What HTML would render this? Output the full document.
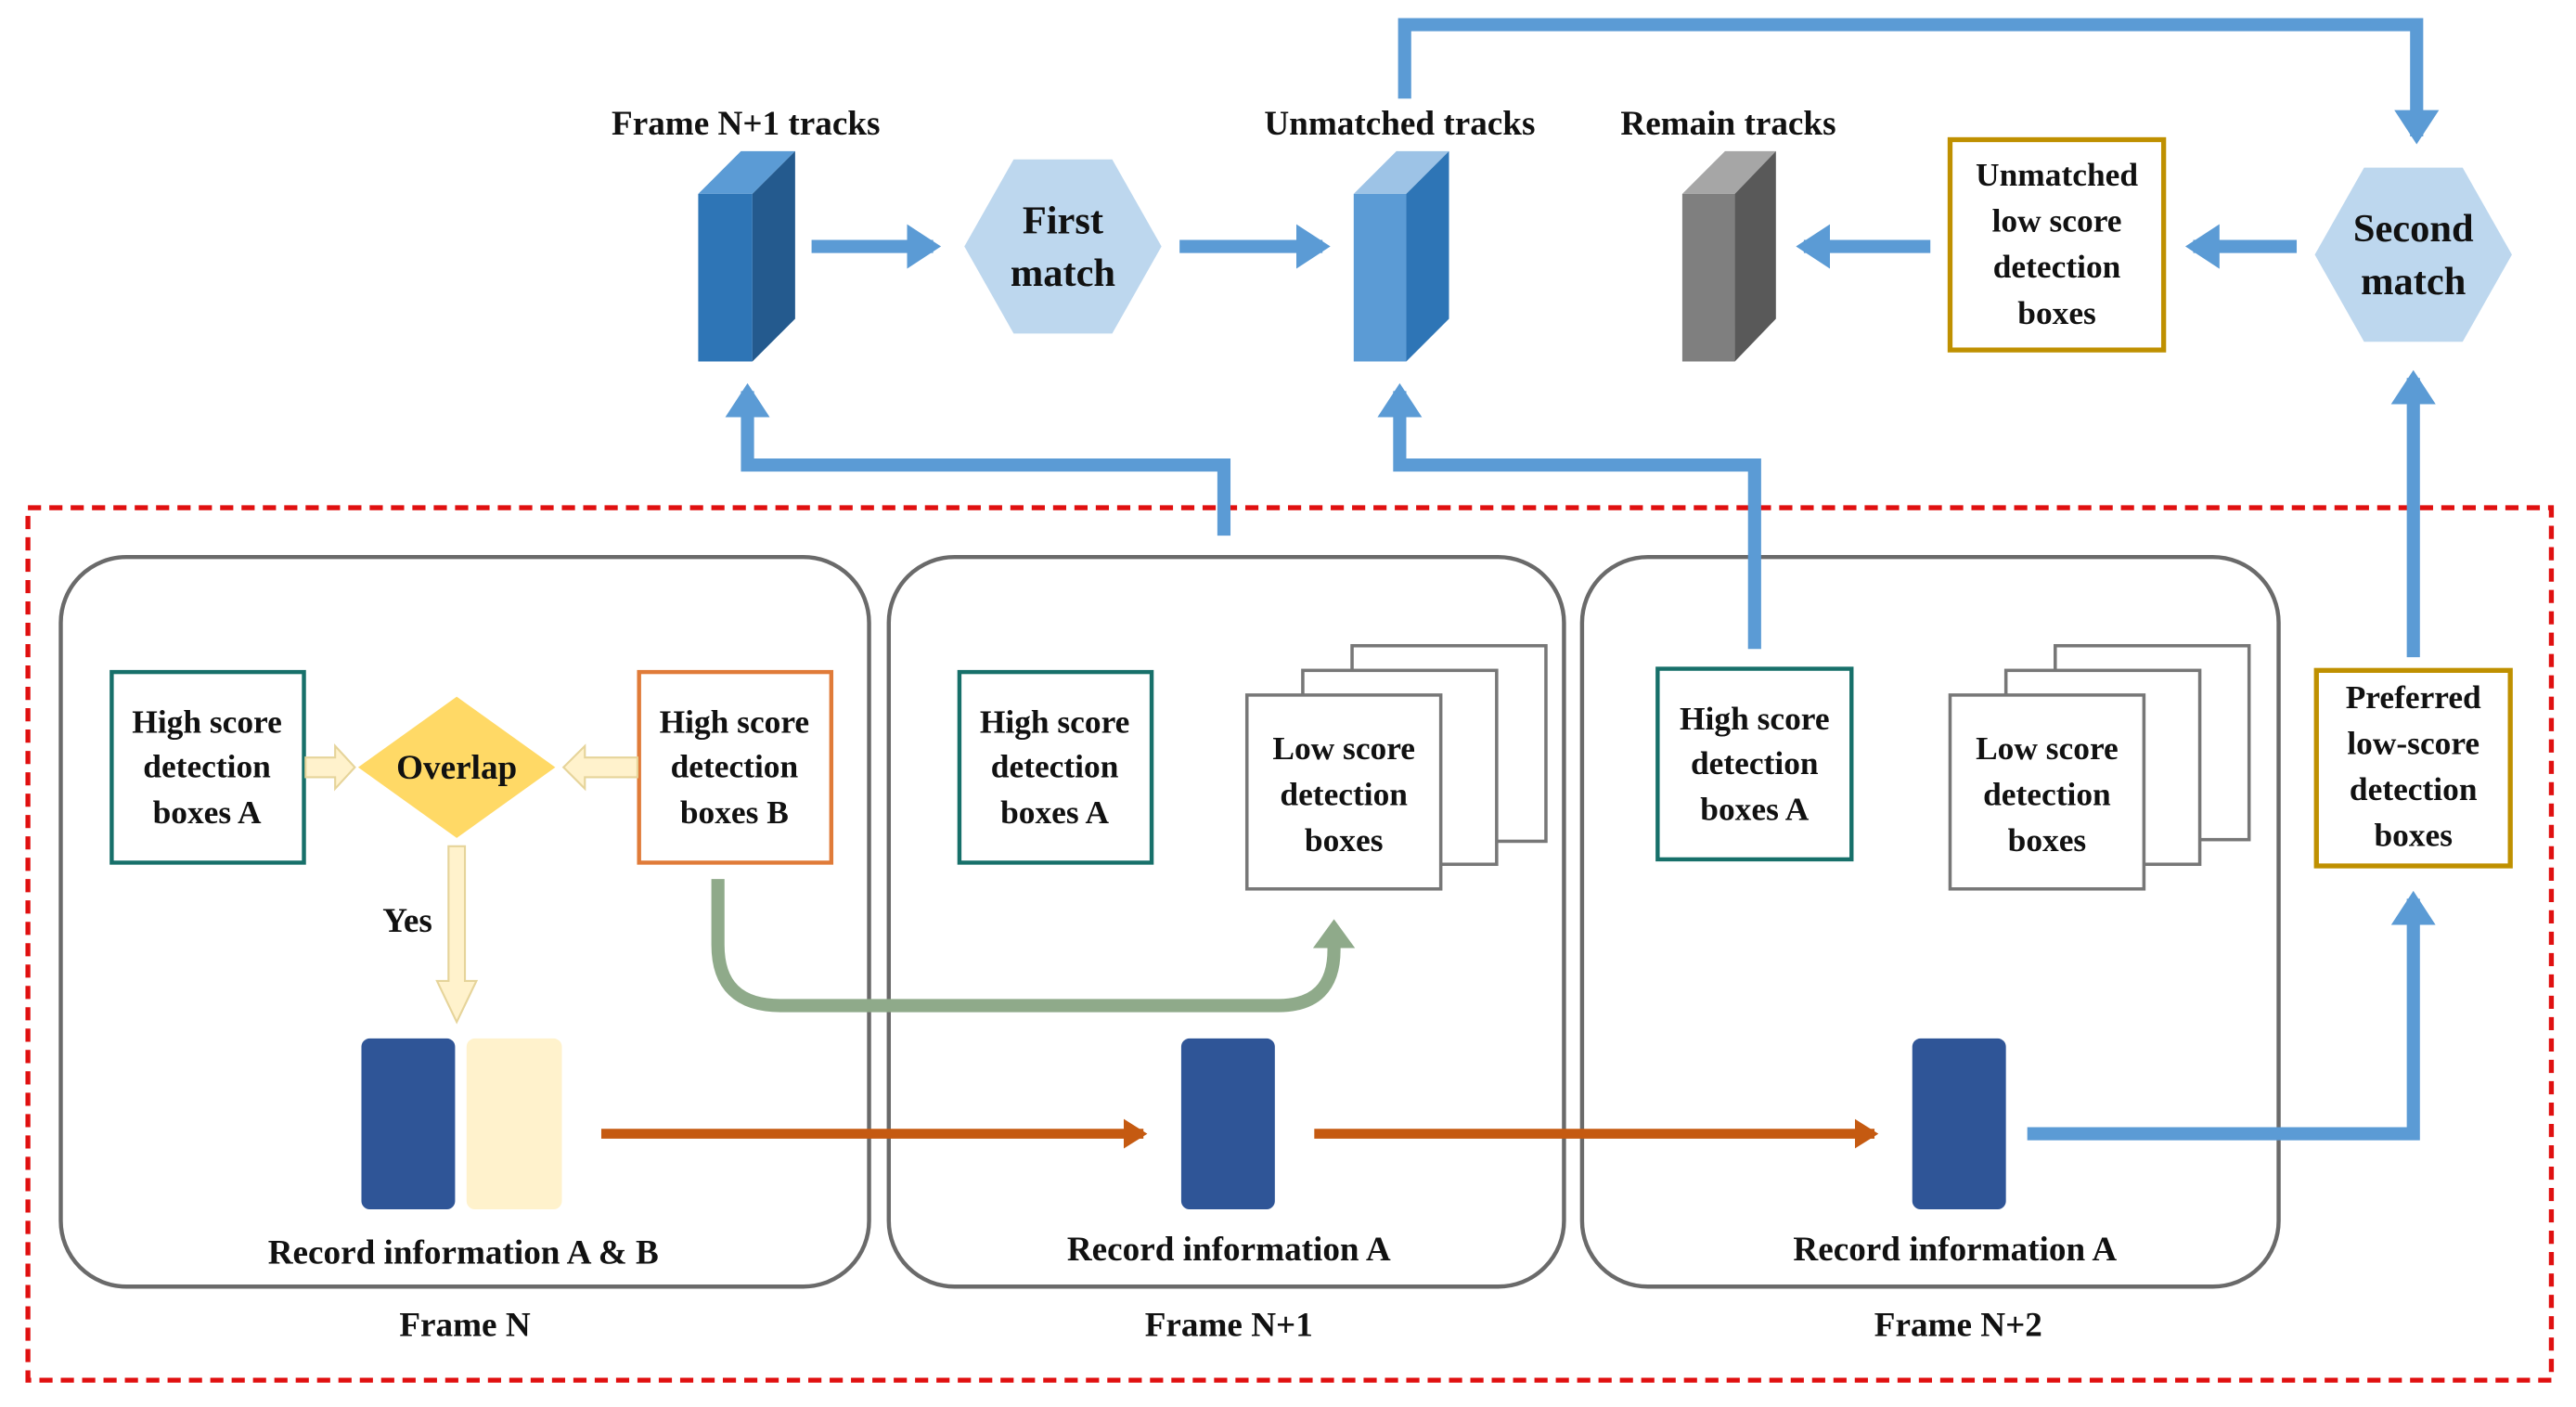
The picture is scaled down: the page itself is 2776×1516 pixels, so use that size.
<!DOCTYPE html>
<html><head><meta charset="utf-8"><style>
html,body{margin:0;padding:0;background:#fff;}
svg{display:block;}
text{font-family:"Liberation Serif",serif;font-weight:bold;fill:#111;text-anchor:middle;}
</style></head><body>
<svg width="2776" height="1516" viewBox="0 0 1568 856.3" preserveAspectRatio="none" xmlns="http://www.w3.org/2000/svg">
<defs>
<marker id="ab" markerWidth="4" markerHeight="4" refX="2" refY="2" orient="auto" markerUnits="strokeWidth"><path d="M0,0.3 L2.6,2 L0,3.7Z" fill="#5b9bd5"/></marker>
<marker id="ao" markerWidth="4" markerHeight="4" refX="2" refY="2" orient="auto" markerUnits="strokeWidth"><path d="M0,0.5 L2.4,2 L0,3.5Z" fill="#c55a11"/></marker>
<marker id="ag" markerWidth="4" markerHeight="4" refX="1.5" refY="2" orient="auto" markerUnits="strokeWidth"><path d="M0,0.4 L2.2,2 L0,3.6Z" fill="#8faa8a"/></marker>
</defs>
<rect x="17" y="309" width="1536" height="531" fill="none" stroke="#e01010" stroke-width="3" stroke-dasharray="8,5"/>
<g fill="none" stroke="#6a6a6a" stroke-width="2.5">
<rect x="37" y="339" width="492" height="444" rx="40"/>
<rect x="541" y="339" width="411" height="444" rx="40"/>
<rect x="963" y="339" width="424" height="444" rx="40"/>
</g>
<g font-size="21">
<text x="283" y="813">Frame N</text>
<text x="748" y="813">Frame N+1</text>
<text x="1192" y="813">Frame N+2</text>
<text x="454" y="82">Frame N+1 tracks</text>
<text x="852" y="82">Unmatched tracks</text>
<text x="1052" y="82">Remain tracks</text>
</g>
<g fill="none" stroke="#5b9bd5" stroke-width="8">
<path d="M494,150 H568" marker-end="url(#ab)"/>
<path d="M718,150 H805" marker-end="url(#ab)"/>
<path d="M1175,150 H1098" marker-end="url(#ab)"/>
<path d="M1398,150 H1335" marker-end="url(#ab)"/>
<path d="M855,60 V15 H1471 V83" marker-end="url(#ab)"/>
<path d="M1469,400 V230" marker-end="url(#ab)"/>
<path d="M1234,690 H1469 V547" marker-end="url(#ab)"/>
<path d="M745,326 V283 H455 V238" marker-end="url(#ab)"/>
<path d="M1068,395 V283 H852 V238" marker-end="url(#ab)"/>
</g>
<polygon points="425,118 451,92 484,92 458,118" fill="#5b9bd5"/>
<rect x="425" y="118" width="33" height="102" fill="#2e75b6"/>
<polygon points="458,118 484,92 484,194 458,220" fill="#245a8e"/>
<polygon points="824,118 850,92 882,92 856,118" fill="#9dc3e6"/>
<rect x="824" y="118" width="32" height="102" fill="#5b9bd5"/>
<polygon points="856,118 882,92 882,194 856,220" fill="#2e75b6"/>
<polygon points="1024,118 1050,92 1081,92 1056,118" fill="#a6a6a6"/>
<rect x="1024" y="118" width="32" height="102" fill="#7f7f7f"/>
<polygon points="1056,118 1081,92 1081,194 1056,220" fill="#595959"/>
<polygon points="587,150 617,97 677,97 707,150 677,203 617,203" fill="#bdd7ee"/>
<text x="647" y="142" font-size="24">First</text>
<text x="647" y="174" font-size="24">match</text>
<polygon points="1409,155 1439,102 1499,102 1529,155 1499,208 1439,208" fill="#bdd7ee"/>
<text x="1469" y="147" font-size="24">Second</text>
<text x="1469" y="179" font-size="24">match</text>
<rect x="1187" y="85" width="130" height="128" fill="#fff" stroke="#bf9000" stroke-width="3"/>
<g font-size="20"><text x="1252" y="113">Unmatched</text><text x="1252" y="141">low score</text><text x="1252" y="169">detection</text><text x="1252" y="197">boxes</text></g>
<rect x="1410" y="408" width="118" height="119" fill="#fff" stroke="#bf9000" stroke-width="3"/>
<g font-size="20"><text x="1469" y="431">Preferred</text><text x="1469" y="459">low-score</text><text x="1469" y="487">detection</text><text x="1469" y="515">boxes</text></g>
<rect x="68" y="409" width="117" height="116" fill="#fff" stroke="#17706a" stroke-width="2.5"/>
<g font-size="20"><text x="126" y="446">High score</text><text x="126" y="473">detection</text><text x="126" y="501">boxes A</text></g>
<rect x="389" y="409" width="117" height="116" fill="#fff" stroke="#e07b39" stroke-width="2.5"/>
<g font-size="20"><text x="447" y="446">High score</text><text x="447" y="473">detection</text><text x="447" y="501">boxes B</text></g>
<g fill="#fff2cc" stroke="#e6d49a" stroke-width="1.2">
<polygon points="186,461 204,461 204,454 216,467 204,480 204,473 186,473"/>
<polygon points="388,461 356,461 356,454 343,467 356,480 356,473 388,473"/>
<polygon points="273,515 283,515 283,597 290,597 278,622 266,597 273,597"/>
</g>
<polygon points="218,467 278,424 338,467 278,510" fill="#ffd966"/>
<text x="278" y="474" font-size="21">Overlap</text>
<text x="248" y="567" font-size="21">Yes</text>
<rect x="220" y="632" width="57" height="104" rx="5" fill="#2f5597"/>
<rect x="284" y="632" width="58" height="104" rx="5" fill="#fff2cc"/>
<text x="282" y="769" font-size="21">Record information A &amp; B</text>
<path d="M437,535 V575 Q437,612 475,612 H778 Q812,612 812,578 V565" fill="none" stroke="#8faa8a" stroke-width="8" marker-end="url(#ag)"/>
<path d="M366,690 H696" fill="none" stroke="#c55a11" stroke-width="6" marker-end="url(#ao)"/>
<path d="M800,690 H1141" fill="none" stroke="#c55a11" stroke-width="6" marker-end="url(#ao)"/>
<rect x="584" y="409" width="117" height="116" fill="#fff" stroke="#17706a" stroke-width="2.5"/>
<g font-size="20"><text x="642" y="446">High score</text><text x="642" y="473">detection</text><text x="642" y="501">boxes A</text></g>
<g fill="#fff" stroke="#777" stroke-width="2">
<rect x="823" y="393" width="118" height="119"/>
<rect x="793" y="408" width="118" height="118"/>
<rect x="759" y="423" width="118" height="118"/>
</g>
<g font-size="20"><text x="818" y="462">Low score</text><text x="818" y="490">detection</text><text x="818" y="518">boxes</text></g>
<rect x="719" y="632" width="57" height="104" rx="5" fill="#2f5597"/>
<text x="748" y="767" font-size="21">Record information A</text>
<rect x="1009" y="407" width="118" height="116" fill="#fff" stroke="#17706a" stroke-width="2.5"/>
<g font-size="20"><text x="1068" y="444">High score</text><text x="1068" y="471">detection</text><text x="1068" y="499">boxes A</text></g>
<g fill="#fff" stroke="#777" stroke-width="2">
<rect x="1251" y="393" width="118" height="118"/>
<rect x="1221" y="408" width="118" height="118"/>
<rect x="1187" y="423" width="118" height="118"/>
</g>
<g font-size="20"><text x="1246" y="462">Low score</text><text x="1246" y="490">detection</text><text x="1246" y="518">boxes</text></g>
<rect x="1164" y="632" width="57" height="104" rx="5" fill="#2f5597"/>
<text x="1190" y="767" font-size="21">Record information A</text>
</svg>
</body></html>
